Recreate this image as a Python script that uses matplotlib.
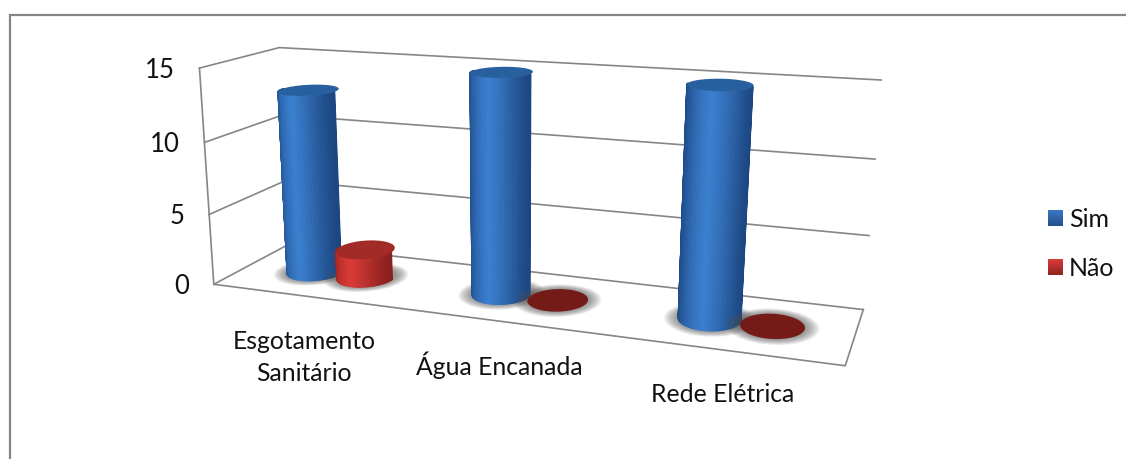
# 3D cylinder chart, perspective done by hand since mplot3d can't match the camera
import numpy as np
import matplotlib
matplotlib.use("Agg")
import matplotlib.pyplot as plt
from matplotlib.patches import Polygon, Rectangle

categories = ["Esgotamento\nSanitário", "Água Encanada", "Rede Elétrica"]
sim = [13, 15, 15]
nao = [2, 0, 0]
ticks = [0, 5, 10, 15]
series_names = ["Sim", "Não"]

plt.rcParams["font.family"] = ["Lato", "DejaVu Sans"]
LINE = "#868686"
TEXT = "#111111"

# camera: wall corners (category pos, depth, value) -> where they land on the picture
world = [(0, 0, 0), (0, 1, 0), (3, 1, 0), (3, 0, 0), (0, 0, 15), (0, 1, 15), (3, 1, 15),
         (0, 0, 5), (0, 0, 10), (3, 1, 5), (3, 1, 10)]
image = [(214, 285), (288, 244), (863, 309), (845, 366), (198, 68), (280, 48), (881, 80),
         (210, 214), (205, 142), (870, 236), (875, 159)]

rows = []
for (a, b, c), (px, py) in zip(world, image):
    rows.append([a, b, c, 1, 0, 0, 0, 0, -px * a, -px * b, -px * c, -px])
    rows.append([0, 0, 0, 0, a, b, c, 1, -py * a, -py * b, -py * c, -py])
P = np.linalg.svd(np.array(rows, float))[2][-1].reshape(3, 4)


def proj(u, v, w):
    u, v, w = np.broadcast_arrays(u, v, w)
    pts = np.stack([u, v, w, np.ones_like(u, dtype=float)], axis=-1) @ P.T
    return pts[..., 0] / pts[..., 2], pts[..., 1] / pts[..., 2]


fig = plt.figure(figsize=(11.26, 4.59), dpi=100)
ax = fig.add_axes([0, 0, 1, 1])
ax.set_xlim(0, 1126)
ax.set_ylim(459, 0)
ax.axis("off")

# outer frame, only top and left are in the crop
ax.plot([9.5, 9.5, 1126], [459, 15, 15], color=LINE, lw=1.6, solid_joinstyle="miter")


def line3d(pts, z=1):
    xs, ys = proj(*np.array(pts, float).T)
    ax.plot(xs, ys, color=LINE, lw=1.2, zorder=z)


for t in ticks:
    line3d([(0, 0, t), (0, 1, t), (3, 1, t)])
line3d([(0, 0, 0), (0, 0, ticks[-1])])
line3d([(0, 0, 0), (3, 0, 0), (3, 1, 0)])

for t in ticks:
    x, y = proj(0, 0, t)
    ax.text(x - 25, y + 2, str(t), ha="right", va="center", fontsize=18.5, color=TEXT)

label_dx = [0, -2, -1]
label_dy = [34, 30, 33]
for i, cat in enumerate(categories):
    x, y = proj(i + 0.5, 0, 0)
    ax.text(x + label_dx[i], y + label_dy[i], cat, ha="center", va="top", fontsize=17.8,
            color=TEXT, linespacing=1.5)

WIDTH = 0.28
R_U = WIDTH / 2
R_V = 0.225
OFFSET = 0.14
NUDGE = 0.006
theta = np.linspace(0, 2 * np.pi, 145)

BLUE = dict(edge=np.array([0x1c, 0x47, 0x82]), mid=np.array([0x3a, 0x7e, 0xce]),
            top="#28609f")
RED = dict(edge=np.array([0x8c, 0x20, 0x1e]), mid=np.array([0xd8, 0x3a, 0x36]),
           top="#a32b27")
ZERO = "#741a17"


def cylinder(cu, value, pal, z):
    cv = 0.5
    us = cu + R_U * np.cos(theta)
    vs = cv + R_V * np.sin(theta)

    # soft shadow on the floor, stacked see-through ellipses
    for k in np.linspace(1.45, 1.02, 16):
        xs, ys = proj(cu + k * R_U * np.cos(theta), cv + k * R_V * np.sin(theta), 0)
        ax.add_patch(Polygon(np.c_[xs, ys], fc="#555555", ec="none", alpha=0.05, zorder=z))

    if value == 0:
        xs, ys = proj(us, vs, 0)
        ax.add_patch(Polygon(np.c_[xs, ys], fc=ZERO, ec="none", zorder=z + 0.1))
        return

    # side wall as thin strips, back to front
    order = np.argsort(-np.sin(theta[:-1]))
    for n, j in enumerate(order):
        th = (theta[j] + theta[j + 1]) / 2
        if np.sin(th) > 0.05:
            continue
        s = abs(np.cos(th))
        mix = np.clip(1 - s ** 1.3, 0, 1)
        col = (pal["edge"] + (pal["mid"] - pal["edge"]) * mix) / 255
        qu = [us[j], us[j + 1], us[j + 1], us[j]]
        qv = [vs[j], vs[j + 1], vs[j + 1], vs[j]]
        xs, ys = proj(qu, qv, [0, 0, value, value])
        ax.add_patch(Polygon(np.c_[xs, ys], fc=col, ec=col, lw=0.6, zorder=z + 0.1 + n * 1e-4))
    xs, ys = proj(us, vs, value)
    ax.add_patch(Polygon(np.c_[xs, ys], fc=pal["top"], ec="none", zorder=z + 0.2))


for i in range(len(categories)):
    cylinder(i + 0.5 - OFFSET + NUDGE, sim[i], BLUE, 2 + i)
    cylinder(i + 0.5 + OFFSET + NUDGE, nao[i], RED, 2 + i + 0.5)

# legend
leg_y = [210, 259]
leg_cols = [("#3a76c4", "#264f8c"), ("#d83c38", "#8f2422")]
for y0, name, (c1, c2) in zip(leg_y, series_names, leg_cols):
    c1 = np.array(matplotlib.colors.to_rgb(c1))
    c2 = np.array(matplotlib.colors.to_rgb(c2))
    for k in range(16):
        ax.add_patch(Rectangle((1048, y0 + k), 15, 1, fc=c1 + (c2 - c1) * k / 15, ec="none", zorder=5))
    ax.text(1069, y0 + 9.5, name, ha="left", va="center", fontsize=18, color=TEXT)

fig.savefig("out.png", dpi=100)
